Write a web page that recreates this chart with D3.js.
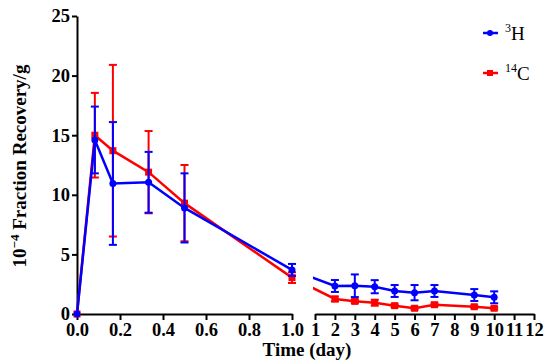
<!DOCTYPE html>
<html>
<head>
<meta charset="utf-8">
<script src="https://cdn.jsdelivr.net/npm/d3@7"></script>
<style>
  body { margin: 0; background: #fff; }
  svg text { font-family: "Liberation Serif", "Times New Roman", serif; }
</style>
</head>
<body>
<svg id="chart" width="550" height="363"></svg>
<script>
// time points in days
var times = [0, 0.083, 0.167, 0.333, 0.5, 1, 2, 3, 4, 5, 6, 7, 9, 10];
// 3H series
var h3Mean = [0, 14.6, 10.95, 11.05, 8.9, 3.7, 2.35, 2.37, 2.29, 1.93, 1.79, 1.93, 1.59, 1.4];
var h3Err  = [0, 2.8, 5.15, 2.55, 2.9, 0.5, 0.5, 0.95, 0.55, 0.5, 0.64, 0.5, 0.5, 0.5];
// 14C series
var c14Mean = [0, 15.0, 13.7, 11.9, 9.3, 3.05, 1.26, 1.06, 0.95, 0.70, 0.48, 0.78, 0.61, 0.48];
var c14Err  = [0, 3.55, 7.2, 3.45, 3.2, 0.45, 0.2, 0.15, 0.25, 0.12, 0.12, 0.12, 0.1, 0.1];

var yTicks = [0, 5, 10, 15, 20, 25];
var leftTicks = [0, 0.2, 0.4, 0.6, 0.8, 1.0];
var rightTicks = [1, 2, 3, 4, 5, 6, 7, 8, 9, 10, 11, 12];

var svg = d3.select("#chart");

var y = d3.scaleLinear().domain([0, 25]).range([314, 16]);
var xLeft = d3.scaleLinear().domain([0, 1]).range([77, 292]);
var xRight = d3.scaleLinear().domain([1, 12]).range([315, 534]);

function xPos(t) {
  // day-1 point sits on the left segment
  return t <= 1 ? xLeft(t) : xRight(t);
}

// clip so the connecting line does not show in the axis gap
var defs = svg.append("defs");
var clip = defs.append("clipPath").attr("id", "gapClip");
clip.append("rect").attr("x", 0).attr("y", 0).attr("width", 292).attr("height", 363);
clip.append("rect").attr("x", 313).attr("y", 0).attr("width", 237).attr("height", 363);

// axes
svg.append("g")
  .attr("transform", "translate(77,0)")
  .call(d3.axisLeft(y).tickValues(yTicks).tickSize(5).tickSizeOuter(0).tickPadding(2));

svg.append("g")
  .attr("transform", "translate(0,314)")
  .call(d3.axisBottom(xLeft).tickValues(leftTicks).tickFormat(d3.format(".1f")).tickSize(6).tickSizeOuter(0).tickPadding(3));

svg.append("g")
  .attr("transform", "translate(0,314)")
  .call(d3.axisBottom(xRight).tickValues(rightTicks).tickFormat(d3.format("d")).tickSize(6).tickSizeOuter(0).tickPadding(3));

svg.selectAll(".domain, .tick line")
  .attr("stroke", "#000")
  .attr("stroke-width", 2);
svg.selectAll(".tick text")
  .attr("font-family", "Liberation Serif, serif")
  .attr("font-weight", "bold")
  .attr("font-size", 18.5)
  .attr("fill", "#000");

// axis titles
svg.append("text")
  .attr("x", 307)
  .attr("y", 356)
  .attr("text-anchor", "middle")
  .attr("font-weight", "bold")
  .attr("font-size", 19)
  .text("Time (day)");

var yTitle = svg.append("text")
  .attr("transform", "translate(26,166) rotate(-90)")
  .attr("text-anchor", "middle")
  .attr("font-weight", "bold")
  .attr("font-size", 19);
yTitle.append("tspan").text("10");
yTitle.append("tspan").attr("dy", -7).attr("font-size", 13).text("−4");
yTitle.append("tspan").attr("dy", 7).text(" Fraction Recovery/g");

// series
var series = [
  { name: "c14", mean: c14Mean, err: c14Err, color: "#ff0000", marker: "square" },
  { name: "h3", mean: h3Mean, err: h3Err, color: "#0000ff", marker: "circle" }
];

var line = d3.line()
  .x(function (d) { return d.x; })
  .y(function (d) { return d.y; });

series.forEach(function (s) {
  var pts = times.map(function (t, i) {
    return { x: xPos(t), y: y(s.mean[i]), lo: y(s.mean[i] - s.err[i]), hi: y(s.mean[i] + s.err[i]) };
  });
  var g = svg.append("g").attr("class", "series-" + s.name);

  g.append("path")
    .datum(pts)
    .attr("d", line)
    .attr("fill", "none")
    .attr("stroke", s.color)
    .attr("stroke-width", 2.5)
    .attr("clip-path", "url(#gapClip)");

  var bars = g.selectAll(".err").data(pts.filter(function (p, i) { return s.err[i] > 0; }))
    .enter().append("g").attr("class", "err");
  bars.append("line")
    .attr("x1", function (d) { return d.x; }).attr("x2", function (d) { return d.x; })
    .attr("y1", function (d) { return d.lo; }).attr("y2", function (d) { return d.hi; })
    .attr("stroke", s.color).attr("stroke-width", 2);
  bars.append("line")
    .attr("x1", function (d) { return d.x - 4; }).attr("x2", function (d) { return d.x + 4; })
    .attr("y1", function (d) { return d.hi; }).attr("y2", function (d) { return d.hi; })
    .attr("stroke", s.color).attr("stroke-width", 2);
  bars.append("line")
    .attr("x1", function (d) { return d.x - 4; }).attr("x2", function (d) { return d.x + 4; })
    .attr("y1", function (d) { return d.lo; }).attr("y2", function (d) { return d.lo; })
    .attr("stroke", s.color).attr("stroke-width", 2);

  if (s.marker === "circle") {
    g.selectAll(".pt").data(pts).enter().append("circle")
      .attr("cx", function (d) { return d.x; })
      .attr("cy", function (d) { return d.y; })
      .attr("r", 3.5)
      .attr("fill", s.color);
  } else {
    g.selectAll(".pt").data(pts).enter().append("rect")
      .attr("x", function (d) { return d.x - 3.5; })
      .attr("y", function (d) { return d.y - 3.5; })
      .attr("width", 7).attr("height", 7)
      .attr("fill", s.color);
  }
});

// legend
var legendItems = [
  { sup: "3", label: "H", color: "#0000ff", marker: "circle", y: 33 },
  { sup: "14", label: "C", color: "#ff0000", marker: "square", y: 73 }
];
var legend = svg.append("g").attr("class", "legend");
legendItems.forEach(function (it) {
  legend.append("line")
    .attr("x1", 483).attr("x2", 498)
    .attr("y1", it.y).attr("y2", it.y)
    .attr("stroke", it.color).attr("stroke-width", 2.5);
  if (it.marker === "circle") {
    legend.append("circle").attr("cx", 490).attr("cy", it.y).attr("r", 3).attr("fill", it.color);
  } else {
    legend.append("rect").attr("x", 487).attr("y", it.y - 3).attr("width", 6).attr("height", 6).attr("fill", it.color);
  }
  var t = legend.append("text")
    .attr("x", 505)
    .attr("y", it.y + 7)
    .attr("font-size", 19)
    .attr("fill", "#000");
  t.append("tspan").attr("font-size", 12).attr("dy", -8).text(it.sup);
  t.append("tspan").attr("dy", 8).text(it.label);
});
</script>
</body>
</html>
